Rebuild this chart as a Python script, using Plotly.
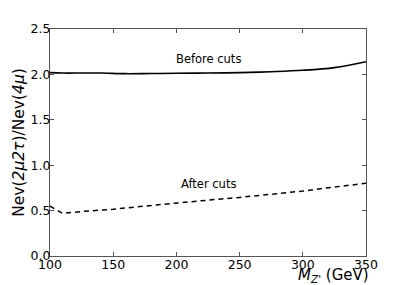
import plotly.graph_objects as go

mass = [100, 110, 125, 140, 160, 180, 200, 225, 250, 275, 300, 325, 350]
before_cuts = [2.02, 2.015, 2.015, 2.015, 2.008, 2.01, 2.012, 2.015, 2.02, 2.03, 2.045, 2.075, 2.14]
mass_after = [100, 110, 125, 150, 175, 200, 225, 250, 275, 300, 325, 350]
after_cuts = [0.55, 0.47, 0.49, 0.515, 0.55, 0.585, 0.615, 0.645, 0.68, 0.715, 0.76, 0.80]

x_ticks = [100, 150, 200, 250, 300, 350]
y_ticks = [0.0, 0.5, 1.0, 1.5, 2.0, 2.5]

font = "DejaVu Sans"
fig = go.Figure()
fig.add_trace(go.Scatter(x=mass, y=before_cuts, mode="lines", line=dict(color="black", width=1.6, shape="spline"), showlegend=False))
fig.add_trace(go.Scatter(x=mass_after, y=after_cuts, mode="lines", line=dict(color="black", width=1.5, dash="5px,4px"), showlegend=False))

fig.add_annotation(x=225, y=2.17, xref="x", yref="y", text="Before cuts", showarrow=False,
                   font=dict(family=font, size=11.5, color="black"))
fig.add_annotation(x=225, y=0.79, xref="x", yref="y", text="After cuts", showarrow=False,
                   font=dict(family=font, size=11.5, color="black"))
fig.add_annotation(x=1.015, y=-0.035, xref="paper", yref="paper", xanchor="right", yanchor="top",
                   text="<i>M</i><sub><i>Z'</i></sub> (GeV)", showarrow=False,
                   font=dict(family=font, size=15, color="black"))

axis_common = dict(showgrid=False, zeroline=False, showline=True, linecolor="#555555", linewidth=1,
                   mirror="ticks", ticks="inside", ticklen=4, tickcolor="#555555", automargin=False,
                   tickfont=dict(family=font, size=12.5, color="black"))
fig.update_xaxes(range=[100, 350], tickvals=x_ticks, ticktext=[str(v) for v in x_ticks], **axis_common)
fig.update_yaxes(range=[0, 2.5], tickvals=y_ticks, ticktext=[f"{v:.1f}" for v in y_ticks],
                 title=dict(text="Nev(<i>2μ2τ</i>)/Nev(<i>4μ</i>)", font=dict(family=font, size=15.5, color="black"), standoff=2),
                 **axis_common)
fig.update_xaxes(ticklabelstandoff=-3)
fig.update_yaxes(ticklabelstandoff=-4)

# page body has an 8px margin, so the figure is sized to fit inside the window
fig.update_layout(width=399, height=277, margin=dict(l=42, r=41, t=21, b=29),
                  plot_bgcolor="white", paper_bgcolor="white")
fig.write_html("out.html")
